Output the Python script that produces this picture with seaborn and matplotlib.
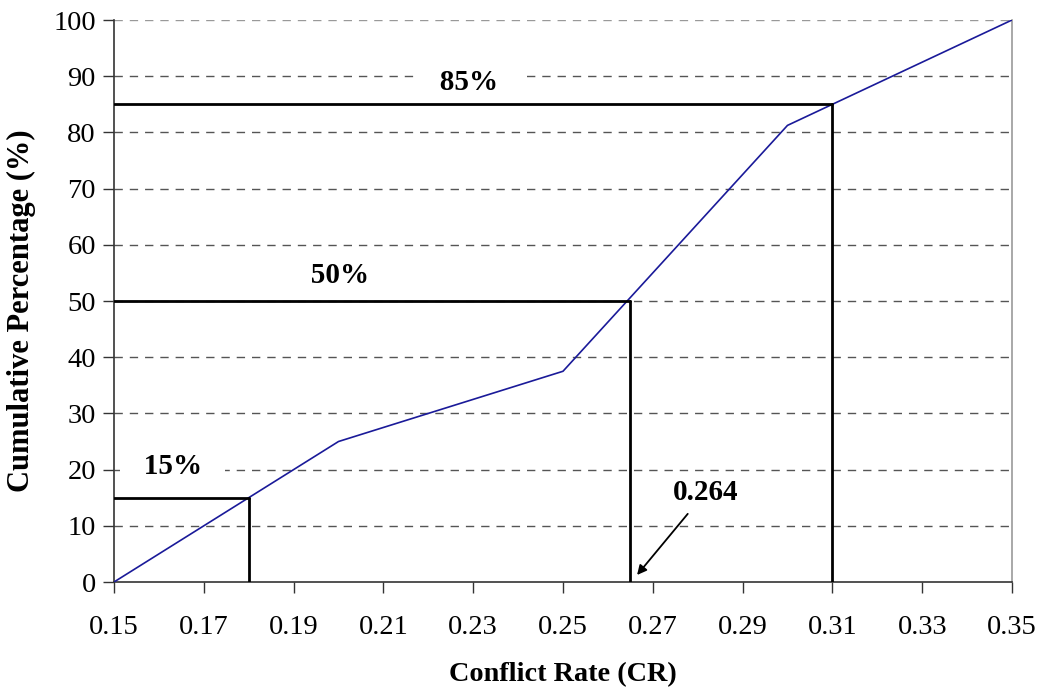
import numpy as np
import matplotlib.pyplot as plt
import pandas as pd
import seaborn as sns

sns.set_style('white')
plt.rcParams['font.family'] = ['Liberation Serif', 'DejaVu Serif']
plt.rcParams['text.color'] = 'black'
plt.rcParams['axes.labelcolor'] = 'black'
plt.rcParams['xtick.color'] = 'black'
plt.rcParams['ytick.color'] = 'black'

# cumulative distribution of conflict rate
conflict_rate = [0.15, 0.20, 0.25, 0.30, 0.35]
cum_pct = [0, 25, 37.5, 81.25, 100]

# percentile markers (x, y, label)
pct_x = [0.18, 0.265, 0.31]
pct_y = [15, 50, 85]
pct_labels = ['15%', '50%', '85%']
pct_label_x = [0.1631, 0.2003, 0.229]
pct_label_y = [20.6, 54.6, 88.8]

df = pd.DataFrame({'cr': conflict_rate, 'pct': cum_pct})

fig = plt.figure(figsize=(10.42, 6.9), dpi=100)
ax = fig.add_axes([0.1094, 0.1565, 0.8618, 0.8145])

for y in range(10, 101, 10):
    ax.axhline(y, color='#555555' if y < 100 else '#999999', lw=1,
               ls=(0, (6, 5)), zorder=1)

sns.lineplot(data=df, x='cr', y='pct', ax=ax, color='#1a1a99', lw=1.2, zorder=3)

for x, y in zip(pct_x, pct_y):
    ax.plot([0.15, x], [y, y], color='black', lw=2, zorder=4)
    ax.plot([x, x], [0, y], color='black', lw=2, zorder=4)

for lx, ly, t in zip(pct_label_x, pct_label_y, pct_labels):
    ax.text(lx, ly, '   ' + t + '   ', ha='center', va='center', fontsize=21,
            fontweight='bold',
            bbox=dict(facecolor='white', edgecolor='none', pad=1), zorder=3.5)

ax.annotate('0.264', xy=(0.2665, 1.25), xytext=(0.2818, 16.0),
            ha='center', va='center', fontsize=21, fontweight='bold',
            arrowprops=dict(arrowstyle='-|>', color='black', lw=1.3,
                            shrinkA=5, shrinkB=0, mutation_scale=14),
            bbox=dict(facecolor='white', edgecolor='none', pad=2), zorder=5)

ax.set_xlim(0.15, 0.35)
ax.set_ylim(0, 100)
ax.set_xticks(np.arange(0.15, 0.351, 0.02))
ax.set_xticklabels(['%.2f' % v for v in np.arange(0.15, 0.351, 0.02)])
ax.set_yticks(range(0, 101, 10))
ax.tick_params(axis='both', labelsize=20.5, direction='out', length=8, width=1,
               color='#333333', bottom=True, left=True, pad=5)
ax.tick_params(axis='x', pad=16)

for s in ['left', 'bottom']:
    ax.spines[s].set_color('#333333')
    ax.spines[s].set_linewidth(1.2)
ax.spines['right'].set_color('#999999')
ax.spines['right'].set_linewidth(1.2)
ax.spines['top'].set_visible(False)

ax.set_xlabel('Conflict Rate (CR)', fontsize=20.3, fontweight='bold')
ax.set_ylabel('Cumulative Percentage (%)', fontsize=22, fontweight='bold')
ax.xaxis.set_label_coords(0.5, -0.143)
ax.yaxis.set_label_coords(-0.087, 0.482)

fig.savefig('out.png', dpi=100)
